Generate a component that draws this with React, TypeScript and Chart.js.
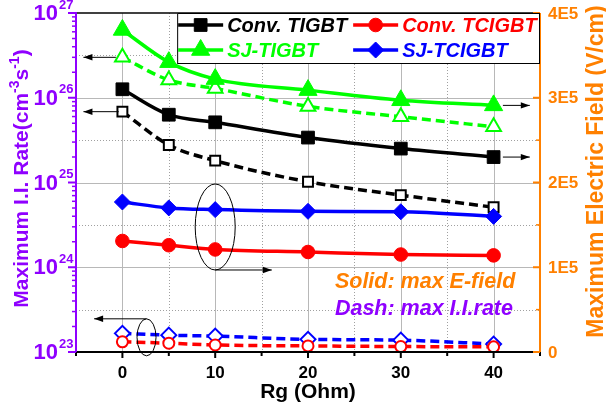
import React, { useEffect, useRef } from 'react';
import { Chart, registerables } from 'chart.js';
Chart.register(...registerables);

// ---- data ----
const rg = [0, 5, 10, 20, 30, 40];
// Solid lines: max E-field (V/cm), right axis
const convTigbtField = [3.10e5, 2.80e5, 2.71e5, 2.53e5, 2.40e5, 2.30e5];
const convTcigbtField = [1.31e5, 1.26e5, 1.21e5, 1.18e5, 1.15e5, 1.14e5];
const sjTigbtField = [3.80e5, 3.42e5, 3.22e5, 3.09e5, 2.97e5, 2.91e5];
const sjTcigbtField = [1.77e5, 1.70e5, 1.68e5, 1.66e5, 1.655e5, 1.60e5];
// Dashed lines: max I.I. rate (cm^-3 s^-1), left axis
const convTigbtRate = [6.85e25, 2.77e25, 1.81e25, 1.02e25, 7.1e24, 5.1e24];
const convTcigbtRate = [1.32e23, 1.27e23, 1.21e23, 1.18e23, 1.16e23, 1.15e23];
const sjTigbtRate = [3.0e26, 1.62e26, 1.29e26, 7.9e25, 5.97e25, 4.55e25];
const sjTcigbtRate = [1.66e23, 1.58e23, 1.54e23, 1.41e23, 1.38e23, 1.24e23];

const seriesNames = ['Conv. TIGBT', 'Conv. TCIGBT', 'SJ-TIGBT', 'SJ-TCIGBT'];
const seriesColors = ['#000000', '#ff0000', '#00ff00', '#0000ff'];
const seriesStyles = ['rect', 'circle', 'triangle', 'rectRot'];

const xTickValues = [0, 10, 20, 30, 40];
const xMinorValues = [-5, 5, 15, 25, 35, 45];
const leftExponents = [23, 24, 25, 26, 27];
const rightTickValues = [0, 1e5, 2e5, 3e5, 4e5];
const rightTickLabels = ['0', '1E5', '2E5', '3E5', '4E5'];
const rightMinorValues = [0.5e5, 1.5e5, 2.5e5, 3.5e5];

const PURPLE = '#8f00ff';
const ORANGE = '#ff8000';
const FONT = '"Liberation Sans", Arial, sans-serif';

const filledR: Record<string, number> = { rect: 9, circle: 6.8, triangle: 10.5, rectRot: 8 };
const openR: Record<string, number> = { rect: 7, circle: 5.5, triangle: 8.5, rectRot: 7.5 };

function pts(ys: number[]) {
  return rg.map((x, i) => ({ x, y: ys[i] }));
}

function mk(idx: number, ys: number[], dashed: boolean) {
  const c = seriesColors[idx];
  const st = seriesStyles[idx];
  return {
    label: seriesNames[idx] + (dashed ? ' rate' : ' field'),
    data: pts(ys),
    yAxisID: dashed ? 'yL' : 'yR',
    borderColor: c,
    backgroundColor: c,
    borderWidth: 3.5,
    borderDash: dashed ? [9, 5] : [],
    cubicInterpolationMode: 'monotone',
    pointStyle: st,
    pointRadius: dashed ? openR[st] : filledR[st],
    pointBackgroundColor: dashed ? '#ffffff' : c,
    pointBorderColor: c,
    pointBorderWidth: dashed ? 2 : 1,
    fill: false,
  };
}

function drawMarker(ctx: CanvasRenderingContext2D, style: string, x: number, y: number, r: number, fill: string, stroke: string, lw: number) {
  ctx.beginPath();
  if (style === 'rect') {
    const s = r * Math.SQRT1_2;
    ctx.rect(x - s, y - s, 2 * s, 2 * s);
  } else if (style === 'circle') {
    ctx.arc(x, y, r, 0, Math.PI * 2);
  } else if (style === 'triangle') {
    for (let k = 0; k < 3; k++) {
      const ang = (k * 2 * Math.PI) / 3;
      const px = x + Math.sin(ang) * r;
      const py = y - Math.cos(ang) * r;
      if (k === 0) ctx.moveTo(px, py); else ctx.lineTo(px, py);
    }
    ctx.closePath();
  } else {
    ctx.moveTo(x, y - r); ctx.lineTo(x + r, y); ctx.lineTo(x, y + r); ctx.lineTo(x - r, y); ctx.closePath();
  }
  ctx.fillStyle = fill; ctx.fill();
  ctx.lineWidth = lw; ctx.strokeStyle = stroke; ctx.setLineDash([]); ctx.stroke();
}

function arrow(ctx: CanvasRenderingContext2D, x1: number, y1: number, x2: number, y2: number) {
  ctx.save();
  ctx.strokeStyle = '#000'; ctx.fillStyle = '#000'; ctx.lineWidth = 1; ctx.setLineDash([]);
  ctx.beginPath(); ctx.moveTo(x1, y1); ctx.lineTo(x2, y2); ctx.stroke();
  const ang = Math.atan2(y2 - y1, x2 - x1);
  const L = 9, W = 3.2;
  ctx.beginPath();
  ctx.moveTo(x2, y2);
  ctx.lineTo(x2 - L * Math.cos(ang) + W * Math.sin(ang), y2 - L * Math.sin(ang) - W * Math.cos(ang));
  ctx.lineTo(x2 - L * Math.cos(ang) - W * Math.sin(ang), y2 - L * Math.sin(ang) + W * Math.cos(ang));
  ctx.closePath(); ctx.fill();
  ctx.restore();
}

const decor = {
  id: 'decor',
  beforeDatasetsDraw(chart: any) {
    const { ctx, chartArea: a, scales } = chart;
    const x = scales.x, yR = scales.yR;
    ctx.save();
    ctx.lineWidth = 1;
    const vlines = [...xTickValues.map((v) => [v, 1]), ...xMinorValues.filter((v) => v > -5 && v < 45).map((v) => [v, 0])];
    for (const [v, major] of vlines) {
      const px = Math.round(x.getPixelForValue(v)) + 0.5;
      ctx.setLineDash(major ? [] : [1, 2]);
      ctx.strokeStyle = major ? '#b8b8b8' : '#a0a0a0';
      ctx.beginPath(); ctx.moveTo(px, a.top); ctx.lineTo(px, a.bottom); ctx.stroke();
    }
    const hlines = [...rightTickValues.filter((v) => v > 0 && v < 4e5).map((v) => [v, 1]), ...rightMinorValues.map((v) => [v, 0])];
    for (const [v, major] of hlines) {
      const py = Math.round(yR.getPixelForValue(v)) + 0.5;
      ctx.setLineDash(major ? [] : [1, 2]);
      ctx.strokeStyle = major ? '#b8b8b8' : '#a0a0a0';
      ctx.beginPath(); ctx.moveTo(a.left, py); ctx.lineTo(a.right, py); ctx.stroke();
    }
    ctx.restore();
  },
  afterDatasetsDraw(chart: any) {
    const { ctx, chartArea: a, scales } = chart;
    const x = scales.x, yL = scales.yL, yR = scales.yR;
    ctx.save();
    ctx.setLineDash([]);

    // --- axis lines ---
    ctx.lineWidth = 2;
    ctx.strokeStyle = '#000';
    ctx.beginPath(); ctx.moveTo(a.left, a.bottom); ctx.lineTo(a.right, a.bottom); ctx.stroke();
    ctx.lineWidth = 1.5;
    ctx.beginPath(); ctx.moveTo(a.left, a.top); ctx.lineTo(a.right, a.top); ctx.stroke();
    ctx.lineWidth = 2;
    ctx.strokeStyle = ORANGE;
    ctx.beginPath(); ctx.moveTo(a.right, a.top); ctx.lineTo(a.right, a.bottom + 1); ctx.stroke();
    ctx.strokeStyle = PURPLE;
    ctx.beginPath(); ctx.moveTo(a.left, a.top - 1); ctx.lineTo(a.left, a.bottom + 1); ctx.stroke();

    // --- x ticks ---
    ctx.strokeStyle = '#000'; ctx.lineWidth = 2;
    for (const v of xTickValues) {
      const px = x.getPixelForValue(v);
      ctx.beginPath(); ctx.moveTo(px, a.bottom); ctx.lineTo(px, a.bottom + 6); ctx.stroke();
    }
    for (const v of xMinorValues) {
      const px = x.getPixelForValue(v);
      ctx.beginPath(); ctx.moveTo(px, a.bottom); ctx.lineTo(px, a.bottom + 4); ctx.stroke();
    }
    ctx.fillStyle = '#000';
    ctx.font = `bold 17px ${FONT}`;
    ctx.textAlign = 'center'; ctx.textBaseline = 'middle';
    for (const v of xTickValues) ctx.fillText(String(v), x.getPixelForValue(v), a.bottom + 21);
    ctx.font = `bold 21px ${FONT}`;
    ctx.fillText('Rg (Ohm)', (a.left + a.right) / 2, a.bottom + 40);

    // --- left log ticks ---
    ctx.strokeStyle = PURPLE;
    for (const e of leftExponents) {
      const py = yL.getPixelForValue(Math.pow(10, e));
      ctx.lineWidth = 2;
      ctx.beginPath(); ctx.moveTo(a.left - 8, py); ctx.lineTo(a.left, py); ctx.stroke();
      if (e < 27) {
        ctx.lineWidth = 1.5;
        for (let m = 2; m <= 9; m++) {
          const pm = yL.getPixelForValue(m * Math.pow(10, e));
          ctx.beginPath(); ctx.moveTo(a.left - 4, pm); ctx.lineTo(a.left, pm); ctx.stroke();
        }
      }
      ctx.fillStyle = PURPLE;
      ctx.font = `bold 22px ${FONT}`;
      ctx.textAlign = 'right'; ctx.textBaseline = 'middle';
      ctx.fillText('10', a.left - 18, py + 1);
      ctx.font = `bold 13px ${FONT}`;
      ctx.textAlign = 'left';
      ctx.fillText(String(e), a.left - 17, py - 8);
    }

    // left title with superscripts
    ctx.save();
    ctx.translate(a.left - 48, (a.top + a.bottom) / 2 - 4);
    ctx.rotate(-Math.PI / 2);
    ctx.fillStyle = PURPLE;
    ctx.textBaseline = 'alphabetic'; ctx.textAlign = 'left';
    const parts: [string, boolean][] = [['Maximum I.I. Rate(cm', false], ['-3', true], ['s', false], ['-1', true], [')', false]];
    const big = `bold 21px ${FONT}`, small = `bold 14px ${FONT}`;
    let total = 0;
    for (const [t, s] of parts) { ctx.font = s ? small : big; total += ctx.measureText(t).width; }
    let cx = -total / 2;
    for (const [t, s] of parts) {
      ctx.font = s ? small : big;
      ctx.fillText(t, cx, s ? -9 : 0);
      cx += ctx.measureText(t).width;
    }
    ctx.restore();

    // --- right ticks ---
    ctx.strokeStyle = ORANGE; ctx.fillStyle = ORANGE;
    ctx.font = `bold 17px ${FONT}`;
    ctx.textAlign = 'left'; ctx.textBaseline = 'middle';
    rightTickValues.forEach((v, i) => {
      const py = yR.getPixelForValue(v);
      ctx.lineWidth = 2;
      ctx.beginPath(); ctx.moveTo(a.right - 7, py); ctx.lineTo(a.right, py); ctx.stroke();
      ctx.fillText(rightTickLabels[i], a.right + 8, py + 1);
    });
    for (const v of rightMinorValues) {
      const py = yR.getPixelForValue(v);
      ctx.lineWidth = 1.5;
      ctx.beginPath(); ctx.moveTo(a.right - 4, py); ctx.lineTo(a.right, py); ctx.stroke();
    }
    ctx.save();
    ctx.translate(a.right + 63, (a.top + a.bottom) / 2 - 11);
    ctx.rotate(-Math.PI / 2);
    ctx.font = `bold 23px ${FONT}`;
    ctx.textAlign = 'center'; ctx.textBaseline = 'alphabetic';
    ctx.fillText('Maximum Electric Field (V/cm)', 0, 0);
    ctx.restore();

    // --- annotations text ---
    ctx.font = `italic bold 21.5px ${FONT}`;
    ctx.textAlign = 'left'; ctx.textBaseline = 'middle';
    ctx.fillStyle = ORANGE;
    ctx.fillText('Solid: max E-field', x.getPixelForValue(22.9), yR.getPixelForValue(0.82e5));
    ctx.fillStyle = PURPLE;
    ctx.fillText('Dash: max I.I.rate', x.getPixelForValue(22.9), yR.getPixelForValue(0.51e5));

    // --- arrows & ellipses ---
    arrow(ctx, x.getPixelForValue(-0.7), yL.getPixelForValue(sjTigbtRate[0]), x.getPixelForValue(-4.2), yL.getPixelForValue(sjTigbtRate[0]));
    arrow(ctx, x.getPixelForValue(-0.4), yL.getPixelForValue(convTigbtRate[0]), x.getPixelForValue(-4.2), yL.getPixelForValue(convTigbtRate[0]));
    arrow(ctx, x.getPixelForValue(41), yR.getPixelForValue(sjTigbtField[5]), x.getPixelForValue(43.9), yR.getPixelForValue(sjTigbtField[5]));
    arrow(ctx, x.getPixelForValue(41), yR.getPixelForValue(convTigbtField[5]), x.getPixelForValue(43.9), yR.getPixelForValue(convTigbtField[5]));

    ctx.strokeStyle = '#000'; ctx.lineWidth = 1;
    const e1x = x.getPixelForValue(10), e1y = yR.getPixelForValue(1.475e5);
    ctx.beginPath(); ctx.ellipse(e1x, e1y, 20, 43, 0, 0, Math.PI * 2); ctx.stroke();
    arrow(ctx, e1x, e1y + 43, x.getPixelForValue(16.1), e1y + 43);
    const e2x = x.getPixelForValue(2.6), e2y = yL.getPixelForValue(1.49e23);
    ctx.beginPath(); ctx.ellipse(e2x, e2y, 9.5, 18.5, 0, 0, Math.PI * 2); ctx.stroke();
    arrow(ctx, e2x, e2y - 18.5, x.getPixelForValue(-3.05), e2y - 18.5);

    // --- legend ---
    const bl = x.getPixelForValue(5.9), bt = a.top, br = a.right, bb = a.top + 50;
    ctx.fillStyle = '#fff';
    ctx.fillRect(bl, bt, br - bl, bb - bt);
    ctx.strokeStyle = '#000'; ctx.lineWidth = 1;
    ctx.strokeRect(bl + 0.5, bt + 0.5, br - bl - 1, bb - bt);
    const colX = [bl + 1, bl + 176];
    const rowY = [bt + 12, bt + 37];
    [0, 1, 2, 3].forEach((idx) => {
      const col = idx % 2, row = Math.floor(idx / 2);
      const lx = colX[col], ly = rowY[row];
      const c = seriesColors[idx];
      ctx.strokeStyle = c; ctx.lineWidth = 3.5; ctx.setLineDash([]);
      ctx.beginPath(); ctx.moveTo(lx, ly); ctx.lineTo(lx + 45, ly); ctx.stroke();
      const st = seriesStyles[idx];
      drawMarker(ctx, st, lx + 22.5, ly, filledR[st], c, c, 1);
      ctx.fillStyle = c;
      ctx.font = `italic bold 20px ${FONT}`;
      ctx.textAlign = 'left'; ctx.textBaseline = 'middle';
      ctx.fillText(seriesNames[idx], lx + 49, ly + 1);
    });

    ctx.restore();
  },
};

export default function App() {
  const ref = useRef<HTMLCanvasElement | null>(null);
  useEffect(() => {
    document.body.style.margin = '0';
    const canvas = ref.current;
    if (!canvas) return;
    const chart = new Chart(canvas, {
      type: 'line',
      data: {
        datasets: [
          mk(0, convTigbtField, false),
          mk(1, convTcigbtField, false),
          mk(2, sjTigbtField, false),
          mk(3, sjTcigbtField, false),
          mk(0, convTigbtRate, true),
          mk(1, convTcigbtRate, true),
          mk(2, sjTigbtRate, true),
          mk(3, sjTcigbtRate, true),
        ] as any,
      },
      options: {
        responsive: false,
        devicePixelRatio: 1,
        animation: false,
        layout: { padding: { left: 76, right: 66, top: 13, bottom: 58 } },
        plugins: { legend: { display: false }, tooltip: { enabled: false } },
        scales: {
          x: { type: 'linear', min: -5, max: 45, display: false },
          yL: { type: 'logarithmic', position: 'left', min: 1e23, max: 1e27, display: false },
          yR: { type: 'linear', position: 'right', min: 0, max: 4e5, display: false },
        },
      } as any,
      plugins: [decor],
    });
    return () => chart.destroy();
  }, []);
  return (
    <div style={{ position: 'absolute', left: 0, top: 0, width: 606, height: 410, background: '#fff' }}>
      <canvas ref={ref} width={606} height={410} />
    </div>
  );
}
